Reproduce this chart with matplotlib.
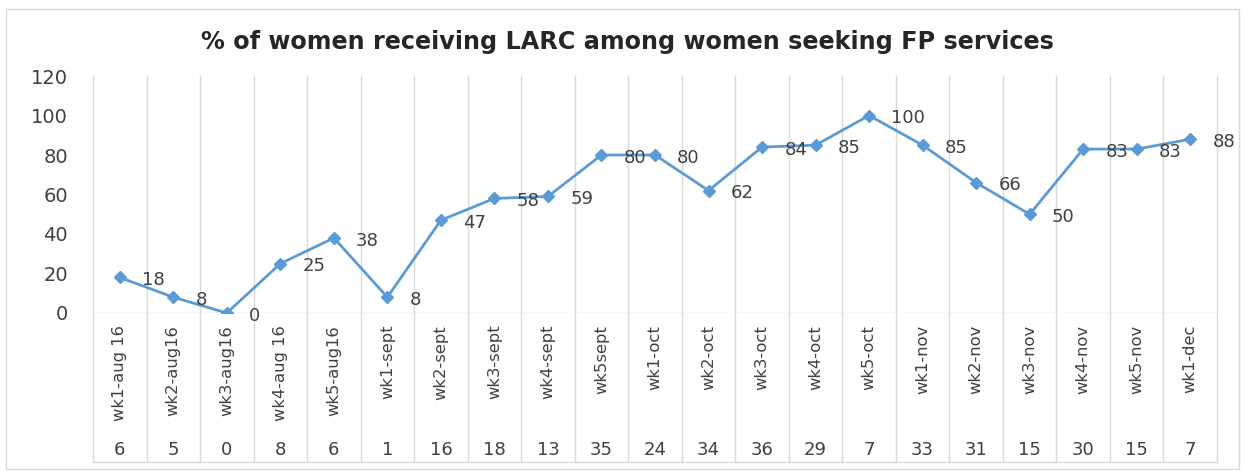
import matplotlib.pyplot as plt

weeks = ['wk1-aug 16', 'wk2-aug16', 'wk3-aug16', 'wk4-aug 16', 'wk5-aug16',
         'wk1-sept', 'wk2-sept', 'wk3-sept', 'wk4-sept', 'wk5sept',
         'wk1-oct', 'wk2-oct', 'wk3-oct', 'wk4-oct', 'wk5-oct',
         'wk1-nov', 'wk2-nov', 'wk3-nov', 'wk4-nov', 'wk5-nov', 'wk1-dec']
counts = [6, 5, 0, 8, 6, 1, 16, 18, 13, 35, 24, 34, 36, 29, 7, 33, 31, 15, 30, 15, 7]
pct = [18, 8, 0, 25, 38, 8, 47, 58, 59, 80, 80, 62, 84, 85, 100, 85, 66, 50, 83, 83, 88]

blue = '#5B9BD5'
grid_c = '#D9D9D9'

fig = plt.figure(figsize=(12.45, 4.71), dpi=100)
ax = fig.add_axes([0.0747, 0.3355, 0.9028, 0.5031])

x = list(range(len(weeks)))
ax.plot(x, pct, color=blue, lw=2, marker='D', ms=6, zorder=3)
for xi, v in zip(x, pct):
    ax.annotate(str(v), (xi, v), xytext=(16, -2), textcoords='offset points',
                ha='left', va='center', fontsize=13, color='#404040', zorder=4)

ax.set_xlim(-0.5, len(weeks) - 0.5)
ax.set_ylim(0, 120)
ax.set_yticks(range(0, 121, 20))
ax.tick_params(axis='y', length=0, labelsize=14, labelcolor='#404040', pad=18)
ax.set_xticks([])
for s in ax.spines.values():
    s.set_visible(False)
ax.axhline(0, color=grid_c, lw=1, zorder=1)

# category separators running through the label area
trans = ax.get_xaxis_transform()
for k in range(len(weeks) + 1):
    ax.plot([k - 0.5, k - 0.5], [-0.63, 1], transform=trans, color=grid_c,
            lw=1, clip_on=False, zorder=0)
ax.plot([-0.5, len(weeks) - 0.5], [-0.63, -0.63], transform=trans,
        color=grid_c, lw=1, clip_on=False)

for xi, w, c in zip(x, weeks, counts):
    ax.text(xi, -0.05, w, transform=trans, rotation=90, ha='center', va='top',
            fontsize=11.8, color='#404040')
    ax.text(xi, -0.578, str(c), transform=trans, ha='center', va='center',
            fontsize=13, color='#404040')

fig.text(0.504, 0.91, '% of women receiving LARC among women seeking FP services',
         ha='center', va='center', fontsize=17.2, fontweight='bold', color='#262626')

# chart border
fig.patches.append(plt.Rectangle((0.005, 0.005), 0.99, 0.975, transform=fig.transFigure,
                                 fill=False, edgecolor='#D9D9D9', lw=1))

fig.savefig('out.png', dpi=100)
